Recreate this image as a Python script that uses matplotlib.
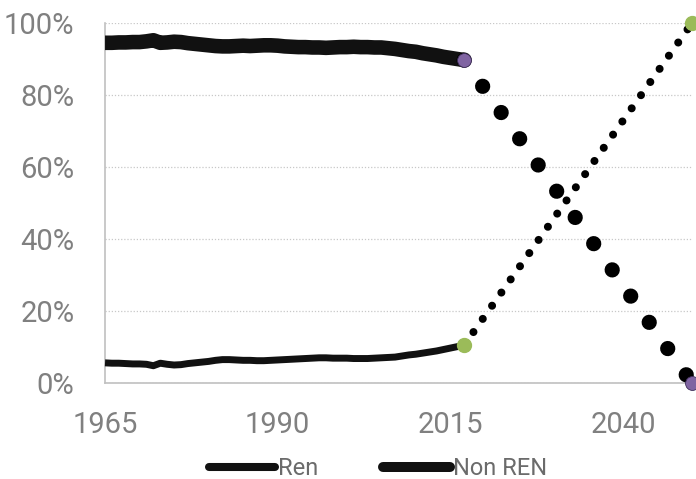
import matplotlib
matplotlib.use("Agg")
import matplotlib.pyplot as plt
from matplotlib.lines import Line2D
from matplotlib.ticker import FuncFormatter

plt.rcParams["font.family"] = ["Roboto", "DejaVu Sans"]

# Historical shares (%), 1965-2017
years_hist = list(range(1965, 2018))
non_ren_hist = [94.5, 94.5, 94.6, 94.6, 94.7, 94.7, 94.9, 95.2, 94.5, 94.6,
                94.8, 94.7, 94.4, 94.2, 94.0, 93.8, 93.6, 93.5, 93.5, 93.6,
                93.7, 93.6, 93.7, 93.8, 93.8, 93.7, 93.5, 93.4, 93.3, 93.3,
                93.2, 93.2, 93.1, 93.2, 93.3, 93.3, 93.4, 93.3, 93.3, 93.2,
                93.2, 93.0, 92.8, 92.5, 92.2, 92.0, 91.6, 91.3, 91.0, 90.6,
                90.3, 90.0, 89.7]
ren_hist = [5.6, 5.5, 5.5, 5.4, 5.3, 5.3, 5.2, 4.8, 5.5, 5.2,
            5.0, 5.1, 5.4, 5.6, 5.8, 6.0, 6.3, 6.5, 6.5, 6.4,
            6.3, 6.3, 6.2, 6.2, 6.3, 6.4, 6.5, 6.6, 6.7, 6.8,
            6.9, 7.0, 7.0, 6.9, 6.9, 6.9, 6.8, 6.8, 6.8, 6.9,
            7.0, 7.1, 7.2, 7.5, 7.8, 8.0, 8.3, 8.6, 8.9, 9.3,
            9.7, 10.1, 10.5]

# Projected path to 2050
years_proj = [2017, 2050]
non_ren_proj = [89.7, 0.0]
ren_proj = [10.5, 100.0]

x_ticks = [1965, 1990, 2015, 2040]
y_ticks = [0, 20, 40, 60, 80, 100]

purple = "#8064a2"
green = "#9bbb59"
grey_text = "#808080"
ink = "#111111"

fig = plt.figure(figsize=(6.96, 4.79), dpi=100)
ax = fig.add_axes([0.1509, 0.2004, 0.8434, 0.7516])

# solid history
ax.plot(years_hist, non_ren_hist, color=ink, lw=10.5, solid_capstyle="butt",
        zorder=3, clip_on=False)
ax.plot(years_hist, ren_hist, color=ink, lw=5, solid_capstyle="butt",
        zorder=3, clip_on=False)

# dotted projections
ax.plot(years_proj, non_ren_proj, color="black", lw=11,
        linestyle=(0, (0.001, 2.1)), dash_capstyle="round", zorder=3,
        clip_on=False)
ax.plot(years_proj, ren_proj, color="black", lw=5.8,
        linestyle=(0, (0.001, 2.0)), dash_capstyle="round", zorder=3,
        clip_on=False)

# end markers
ax.plot(years_proj, non_ren_proj, linestyle="none", marker="o", ms=10,
        mfc=purple, mec="#3f2f5a", mew=0.6, zorder=5, clip_on=False)
ax.plot(years_proj, ren_proj, linestyle="none", marker="o", ms=10,
        mfc=green, mec=green, zorder=5, clip_on=False)

ax.set_xlim(1965, 2050)
ax.set_ylim(0, 100)
ax.set_xticks(x_ticks)
ax.set_yticks(y_ticks)
ax.yaxis.set_major_formatter(FuncFormatter(lambda v, _: f"{int(v)}%"))
ax.tick_params(axis="both", length=0, labelsize=21, colors=grey_text)
ax.tick_params(axis="y", pad=22)
ax.tick_params(axis="x", pad=20)

ax.grid(axis="y", color="#c8c8c8", linestyle=(0, (1, 1.5)), lw=0.9)
ax.set_axisbelow(True)
for side in ("top", "right"):
    ax.spines[side].set_visible(False)
for side in ("left", "bottom"):
    ax.spines[side].set_color("#c0c0c0")
    ax.spines[side].set_linewidth(1.2)

handles = [Line2D([0], [0], color=ink, lw=5.8, solid_capstyle="round"),
           Line2D([0], [0], color=ink, lw=7.2, solid_capstyle="round")]
leg = fig.legend(handles, ["Ren", "Non REN"], loc="center",
                 bbox_to_anchor=(0.543, 0.021), ncol=2, frameon=False,
                 fontsize=17, handlelength=2.8, handletextpad=0.15,
                 columnspacing=2.75, borderpad=0, borderaxespad=0)
for t in leg.get_texts():
    t.set_color("#6b6b6b")

fig.savefig("out.png", dpi=100)
